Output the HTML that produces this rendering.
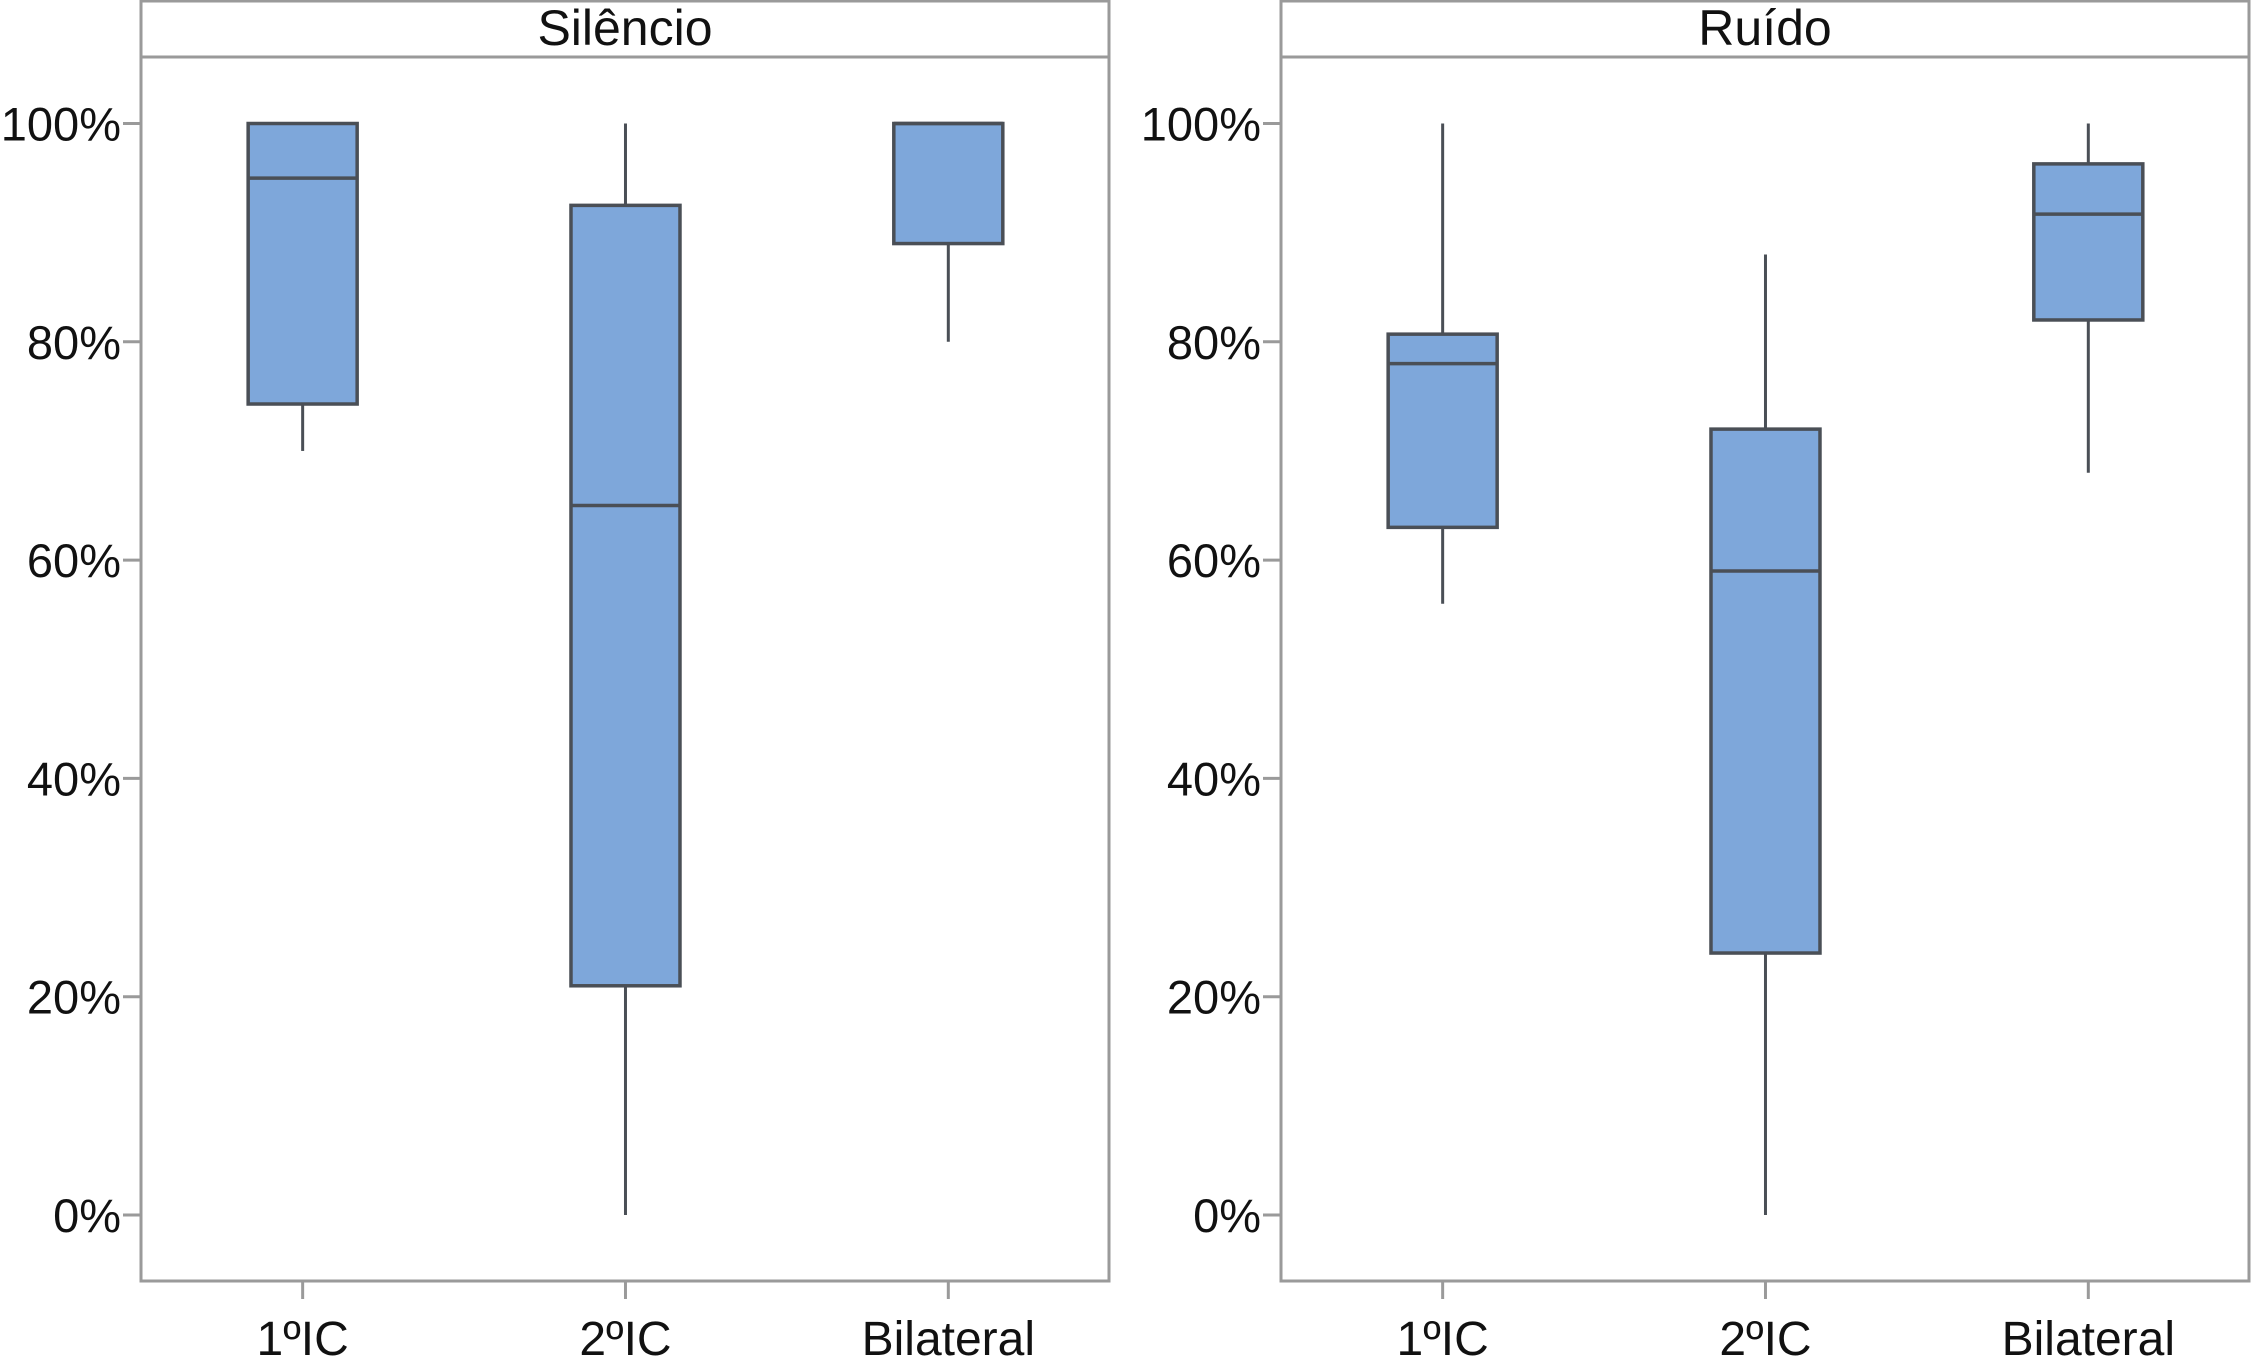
<!DOCTYPE html>
<html><head><meta charset="utf-8"><style>
html,body{margin:0;padding:0;background:#fff}
svg text{font-family:"Liberation Sans",sans-serif;fill:#111}
</style></head><body>
<svg id="chart" width="2252" height="1367" viewBox="0 0 2252 1367" xmlns="http://www.w3.org/2000/svg"></svg>
<script>
const categories = ["1ºIC", "2ºIC", "Bilateral"];
const panels = ["Silêncio", "Ruído"];
const yTicks = [0, 20, 40, 60, 80, 100];
const silMin = [70, 0, 80];
const silQ1 = [74.3, 21, 89];
const silMed = [95, 65, 100];
const silQ3 = [100, 92.5, 100];
const silMax = [100, 100, 100];
const ruiMin = [56, 0, 68];
const ruiQ1 = [63, 24, 82];
const ruiMed = [78, 59, 91.7];
const ruiQ3 = [80.7, 72, 96.3];
const ruiMax = [100, 88, 100];

const NS = "http://www.w3.org/2000/svg";
const svgEl = document.getElementById("chart");
function mk(tag, attrs, parent) {
  const e = document.createElementNS(NS, tag);
  for (const k in attrs) e.setAttribute(k, attrs[k]);
  (parent || svgEl).appendChild(e);
  return e;
}
const frames = [{x0:141, x1:1109}, {x0:1281, x1:2249}];
const frameTop = 1, stripBottom = 57, frameBottom = 1281;
function yScale(v) { return 1215 - (v / 100) * (1215 - 123.5); }
function xScale(p, i) {
  const f = frames[p];
  const w = f.x1 - f.x0;
  return f.x0 + w * (0.167 + i * 0.3335);
}
const data = [
  [silMin, silQ1, silMed, silQ3, silMax],
  [ruiMin, ruiQ1, ruiMed, ruiQ3, ruiMax]
];
const boxW = 109;
const strokeCol = "#4a4f56";
panels.forEach((title, p) => {
  const f = frames[p];
  const g = mk("g", {});
  
  
  const fr = mk("rect", {x:f.x0, y:frameTop, width:f.x1 - f.x0, height:frameBottom - frameTop, fill:"none", stroke:"#9a9a9a", "stroke-width":3}, g);
  
  
  const sl = mk("line", {x1:f.x0, x2:f.x1, y1:stripBottom, y2:stripBottom, stroke:"#9a9a9a", "stroke-width":3}, g);
  
  
  const t = mk("text", {x:(f.x0 + f.x1) / 2, y:45, "text-anchor":"middle", "font-size":50}, g);
  t.textContent = title;
  
  
  yTicks.forEach(v => {
    const y = yScale(v);
    const tk = mk("line", {x1:f.x0 - 18, x2:f.x0, y1:y, y2:y, stroke:"#9a9a9a", "stroke-width":3}, g);
    
    
    const tl = mk("text", {x:f.x0 - 20, y:y + 17, "text-anchor":"end", "font-size":47}, g);
    tl.textContent = v + "%";
    
    
  });
  categories.forEach((c, i) => {
    const x = xScale(p, i);
    const xt = mk("line", {x1:x, x2:x, y1:frameBottom, y2:frameBottom + 18, stroke:"#9a9a9a", "stroke-width":3}, g);
    
    
    const xl = mk("text", {x:x, y:1355, "text-anchor":"middle", "font-size":48}, g);
    xl.textContent = c;
    
    
    const d = data[p];
    const mn = d[0][i], q1 = d[1][i], md = d[2][i], q3 = d[3][i], mx = d[4][i];
    const bg = mk("g", {}, g);
    
    
    const w1 = mk("line", {x1:x, x2:x, y1:yScale(q3), y2:yScale(mx), stroke:strokeCol, "stroke-width":3}, bg);
    
    
    const w2 = mk("line", {x1:x, x2:x, y1:yScale(q1), y2:yScale(mn), stroke:strokeCol, "stroke-width":3}, bg);
    
    
    const r = mk("rect", {x:x - boxW / 2, y:yScale(q3), width:boxW, height:yScale(q1) - yScale(q3), fill:"#7ea7da", stroke:strokeCol, "stroke-width":3.5}, bg);
    
    
    const m = mk("line", {x1:x - boxW / 2, x2:x + boxW / 2, y1:yScale(md), y2:yScale(md), stroke:strokeCol, "stroke-width":3.5}, bg);
    
    
  });
});
</script>
</body></html>
